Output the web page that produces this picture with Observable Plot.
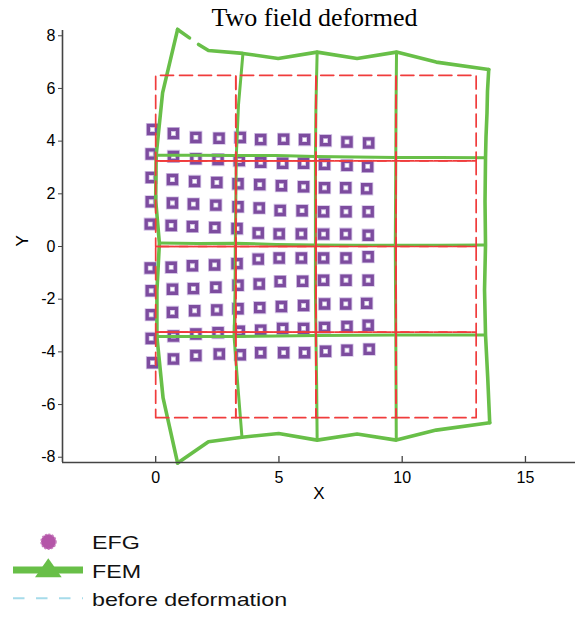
<!DOCTYPE html>
<html>
<head>
<meta charset="utf-8">
<script src="https://cdn.jsdelivr.net/npm/d3@7"></script>
<script src="https://cdn.jsdelivr.net/npm/@observablehq/plot@0.6"></script>
<style>
  html, body { margin: 0; padding: 0; background: #fff; }
  #wrap { position: relative; width: 579px; height: 617px; overflow: hidden; }
  #title { position: absolute; left: 0; top: 3px; width: 629px; text-align: center;
           font-family: "Liberation Serif", "Times New Roman", serif; font-size: 26px; color: #000; line-height: 30px; }
  #chart { position: absolute; left: 0; top: 0; }
  #legend { position: absolute; left: 0; top: 520px; }
</style>
</head>
<body>
<div id="wrap">
  <div id="chart"></div>
  <div id="title">Two field deformed</div>
  <div id="legend"></div>
</div>
<script>
// ---------- data ----------
const xTicks = [0, 5, 10, 15];
const yTicks = [-8, -6, -4, -2, 0, 2, 4, 6, 8];
const xDomain = [-3.78, 17.03];
const yDomain = [-8.2, 8.2];

// original (before deformation) mesh lines
const origX = [0, 3.25, 6.5, 9.75, 13];
const origY = [-6.5, -3.25, 0, 3.25, 6.5];

// EFG nodes (10 rows x 11 columns, top to bottom)
const efgX = [
  -0.13, 0.72, 1.63, 2.57, 3.43, 4.26, 5.19, 6.04, 6.89, 7.76, 8.64,
  -0.18, 0.72, 1.63, 2.53, 3.39, 4.26, 5.15, 6.00, 6.85, 7.76, 8.60,
  -0.18, 0.68, 1.58, 2.48, 3.34, 4.22, 5.10, 6.00, 6.85, 7.71, 8.56,
  -0.18, 0.68, 1.53, 2.44, 3.34, 4.20, 5.05, 5.94, 6.81, 7.72, 8.62,
  -0.22, 0.63, 1.49, 2.40, 3.30, 4.16, 5.01, 5.91, 6.81, 7.71, 8.62,
  -0.22, 0.63, 1.49, 2.39, 3.30, 4.16, 5.01, 5.91, 6.81, 7.72, 8.62,
  -0.18, 0.68, 1.53, 2.44, 3.34, 4.20, 5.05, 5.96, 6.81, 7.72, 8.62,
  -0.18, 0.68, 1.58, 2.48, 3.34, 4.22, 5.10, 6.00, 6.85, 7.71, 8.56,
  -0.18, 0.72, 1.63, 2.53, 3.39, 4.26, 5.15, 6.00, 6.85, 7.76, 8.62,
  -0.13, 0.72, 1.63, 2.58, 3.43, 4.26, 5.19, 6.04, 6.89, 7.76, 8.66
];
const efgY = [
  4.44, 4.29, 4.14, 4.11, 4.14, 4.06, 4.07, 4.06, 4.02, 3.97, 3.93,
  3.51, 3.42, 3.33, 3.30, 3.26, 3.20, 3.16, 3.16, 3.12, 3.08, 3.04,
  2.62, 2.54, 2.47, 2.43, 2.38, 2.35, 2.31, 2.27, 2.23, 2.23, 2.19,
  1.70, 1.65, 1.61, 1.57, 1.51, 1.46, 1.37, 1.36, 1.32, 1.32, 1.32,
  0.85, 0.80, 0.76, 0.72, 0.68, 0.51, 0.48, 0.48, 0.47, 0.47, 0.43,
  -0.82, -0.79, -0.73, -0.70, -0.65, -0.48, -0.44, -0.44, -0.44, -0.44, -0.39,
  -1.68, -1.62, -1.60, -1.55, -1.47, -1.42, -1.33, -1.32, -1.28, -1.28, -1.28,
  -2.59, -2.50, -2.44, -2.41, -2.36, -2.32, -2.28, -2.24, -2.18, -2.18, -2.16,
  -3.49, -3.40, -3.32, -3.27, -3.22, -3.18, -3.11, -3.11, -3.07, -3.04, -2.99,
  -4.41, -4.27, -4.14, -4.08, -4.11, -4.03, -4.03, -4.03, -3.98, -3.94, -3.90
];

// FEM deformed mesh polylines (null = break in the drawn line)
const femTopX = [0.89, 1.37, null, 1.74, 2.14, 3.54, 4.97, 6.55, 8.17, 9.77, 11.38, 13.51];
const femTopY = [8.24, 7.92, null, 7.67, 7.44, 7.33, 7.14, 7.38, 7.14, 7.38, 7.00, 6.72];
const femRow3X = [0.02, 1.60, 3.27, 4.90, 6.48, 8.10, 9.74, 11.50, 13.38];
const femRow3Y = [3.46, 3.46, 3.45, 3.45, 3.42, 3.40, 3.38, 3.38, 3.37];
const femRow2X = [0.15, 1.70, 3.23, 4.90, 6.48, 8.10, 9.72, 11.50, 13.38];
const femRow2Y = [0.13, 0.11, 0.12, 0.08, 0.06, 0.05, 0.05, 0.05, 0.06];
const femRow1X = [0.05, 1.65, 3.20, 4.90, 6.50, 8.10, 9.74, 11.50, 13.38];
const femRow1Y = [-3.42, -3.42, -3.42, -3.40, -3.38, -3.37, -3.36, -3.36, -3.36];
const femBotX = [0.89, 2.14, 3.50, 4.99, 6.55, 8.17, 9.76, 11.38, 13.55];
const femBotY = [-8.22, -7.41, -7.24, -7.10, -7.35, -7.12, -7.35, -6.97, -6.69];
const femCol0X = [0.89, 0.28, 0.02, 0.00, 0.15, 0.05, 0.05, 0.30, 0.89];
const femCol0Y = [8.24, 5.83, 3.46, 1.75, 0.13, -1.70, -3.42, -5.75, -8.22];
const femCol1X = [3.54, 3.36, 3.27, 3.25, 3.23, 3.22, 3.18, 3.36, 3.50];
const femCol1Y = [7.33, 5.39, 3.45, 1.70, 0.12, -1.70, -3.42, -5.60, -7.24];
const femCol2X = [6.55, 6.50, 6.48, 6.48, 6.48, 6.48, 6.50, 6.53, 6.55];
const femCol2Y = [7.38, 5.30, 3.42, 1.70, 0.06, -1.70, -3.38, -5.30, -7.35];
const femCol3X = [9.77, 9.75, 9.74, 9.73, 9.72, 9.73, 9.74, 9.75, 9.76];
const femCol3Y = [7.38, 5.30, 3.38, 1.70, 0.05, -1.70, -3.36, -5.30, -7.35];
const femCol4X = [13.51, 13.46, 13.44, 13.40, 13.38, 13.36, 13.38, 13.34, 13.38, 13.47, 13.55];
const femCol4Y = [6.72, 5.90, 5.07, 4.18, 3.37, 1.70, 0.06, -1.65, -3.36, -5.00, -6.69];

// legend labels
const legendLabels = ["EFG", "FEM", "before deformation"];

// ---------- build mark data ----------
const efg = efgX.map((x, i) => ({x, y: efgY[i]}));

const femLines = [
  [femTopX, femTopY], [femRow3X, femRow3Y], [femRow2X, femRow2Y], [femRow1X, femRow1Y], [femBotX, femBotY],
  [femCol0X, femCol0Y], [femCol1X, femCol1Y], [femCol2X, femCol2Y], [femCol3X, femCol3Y], [femCol4X, femCol4Y]
];
const fem = [];
femLines.forEach(([xs, ys], id) => xs.forEach((x, k) => fem.push({id, x, y: ys[k], outer: id === 0 || id === 4 || id === 5 || id === 9})));

// each original element drawn as its own dashed closed rectangle
const orig = [];
let eid = 0;
for (let i = 0; i < origX.length - 1; i++) {
  for (let j = 0; j < origY.length - 1; j++) {
    const c = [[origX[i], origY[j]], [origX[i + 1], origY[j]], [origX[i + 1], origY[j + 1]], [origX[i], origY[j + 1]], [origX[i], origY[j]]];
    c.forEach(([x, y]) => orig.push({id: eid, x, y}));
    eid++;
  }
}
// shared interior edges drawn twice look solid
const inner = [];
let sid = 0;
for (let i = 1; i < origX.length - 1; i++) {
  inner.push({id: sid, x: origX[i], y: origY[1]}, {id: sid, x: origX[i], y: origY[3]}); sid++;
}
for (let j = 1; j < origY.length - 1; j++) {
  inner.push({id: sid, x: origX[0], y: origY[j]}, {id: sid, x: origX[2], y: origY[j]}); sid++;
}

const W = 579, H = 520, mT = 30, mB = 58, mL = 62, mR = 4;
const green = "#68bf48";
const red = "#f03c3c";
const purple = "#7d4c9f";

const chart = Plot.plot({
  width: W, height: H,
  marginLeft: mL, marginRight: mR, marginTop: mT, marginBottom: mB,
  x: {domain: xDomain},
  y: {domain: yDomain},
  style: {fontFamily: "'Liberation Sans', Arial, sans-serif", fontSize: "16px", color: "#000", background: "transparent", overflow: "visible"},
  marks: [
    Plot.dot(efg, {x: "x", y: "y", symbol: "square", r: 4.6, stroke: "#d4c4e6", strokeWidth: 5, fill: "none"}),
    Plot.dot(efg, {x: "x", y: "y", symbol: "square", r: 4.6, stroke: purple, strokeWidth: 3.3, fill: "none"}),
    Plot.line(fem.filter(d => !d.outer), {x: "x", y: "y", z: "id", stroke: green, strokeWidth: 3, strokeLinejoin: "round"}),
    Plot.line(fem.filter(d => d.outer), {x: "x", y: "y", z: "id", stroke: green, strokeWidth: 3.6, strokeLinejoin: "round"}),
    Plot.line(orig, {x: "x", y: "y", z: "id", stroke: red, strokeOpacity: 1, strokeWidth: 1.7, strokeDasharray: "13,6"}),
    Plot.line(inner, {x: "x", y: "y", z: "id", stroke: red, strokeOpacity: 0.9, strokeWidth: 1.3}),
    Plot.ruleX([xDomain[0]], {stroke: "#444", strokeWidth: 1.6}),
    Plot.ruleY([yDomain[0]], {stroke: "#444", strokeWidth: 1.6}),
    Plot.ruleX(xTicks, {stroke: "#444", strokeWidth: 1.3, insetTop: (H - mT - mB) - 6}),
    Plot.axisY({ticks: yTicks, tickSize: 4, tickPadding: 3, tickFormat: d => String(d), label: null, stroke: "#444", fontSize: 16}),
    Plot.axisX({ticks: xTicks, tickSize: 0, tickPadding: 9, tickFormat: d => String(d), label: null, fontSize: 16}),
    Plot.text(["X"], {frameAnchor: "bottom", dy: 36, fontSize: 17, text: d => d}),
    Plot.text(["Y"], {frameAnchor: "left", dx: -40, rotate: -90, fontSize: 17, text: d => d})
  ]
});
document.getElementById("chart").appendChild(chart);

// ---------- legend (below the chart) ----------
const ns = "http://www.w3.org/2000/svg";
const lg = d3.create("svg").attr("width", 579).attr("height", 97).attr("xmlns", ns);
lg.append("circle").attr("cx", 48.5).attr("cy", 21.7).attr("r", 7.5).attr("fill", "#b455a8")
  .attr("stroke", "#c77dbd").attr("stroke-width", 1.5).attr("stroke-dasharray", "2,1.5");
lg.append("line").attr("x1", 13).attr("x2", 83).attr("y1", 50).attr("y2", 50)
  .attr("stroke", green).attr("stroke-width", 7);
lg.append("path").attr("d", "M48.3,38.3 L61.7,57.3 L35,57.3 Z").attr("fill", green);
lg.append("line").attr("x1", 13).attr("x2", 83).attr("y1", 78.3).attr("y2", 78.3)
  .attr("stroke", "#a6dbea").attr("stroke-width", 2).attr("stroke-dasharray", "11.5,11.5");
const baselines = [29, 58, 86];
legendLabels.forEach((t, i) => {
  lg.append("text").attr("transform", `translate(92,${baselines[i]}) scale(1.25,1)`)
    .attr("font-family", "'Liberation Sans', Arial, sans-serif").attr("font-size", 18.6)
    .attr("fill", "#111").text(t);
});
document.getElementById("legend").appendChild(lg.node());
</script>
</body>
</html>
